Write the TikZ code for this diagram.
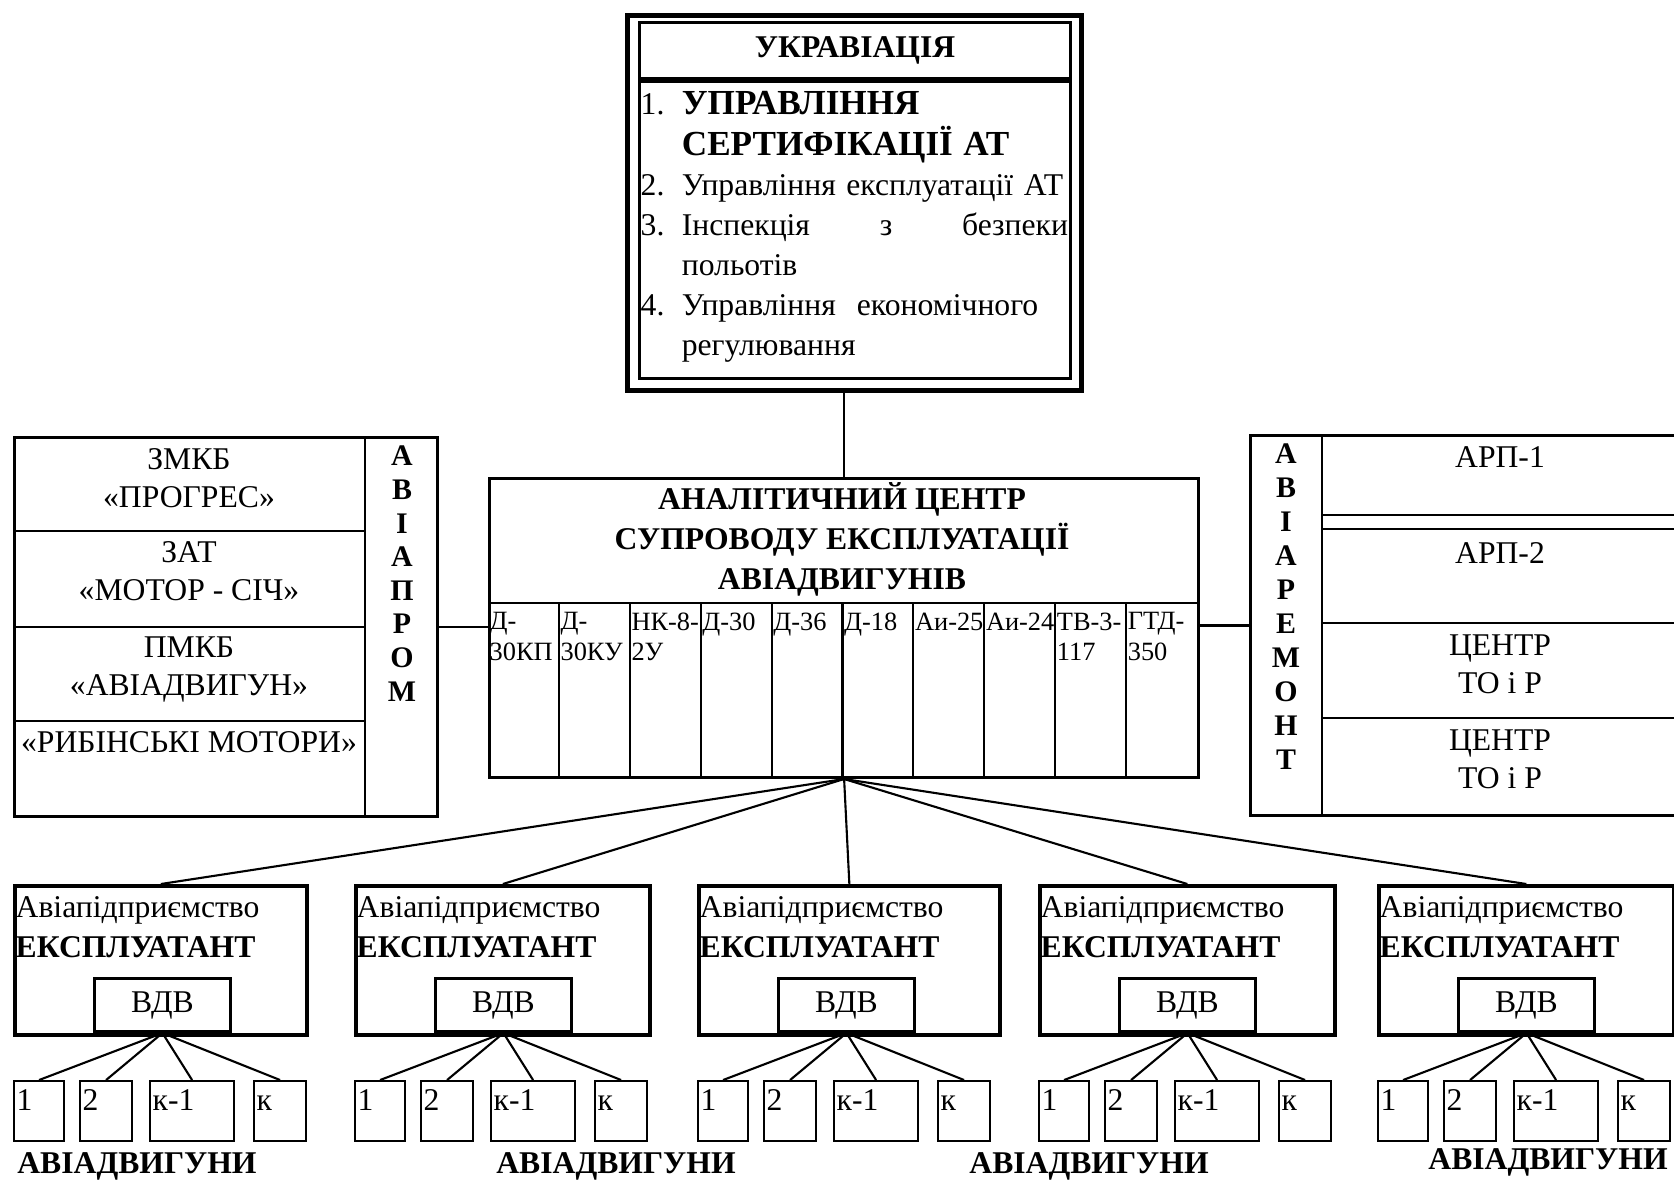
\documentclass[tikz,border=0pt]{standalone}
\usepackage{fontspec}
\setmainfont{Liberation Serif}
\usetikzlibrary{positioning}

\tikzset{
  frame/.style={draw, line width=0.8pt, inner sep=0pt},
  thin/.style={line width=0.6pt},
  lbl/.style={font=\fontsize{9}{10.8}\selectfont, align=center, inner sep=0pt},
  blbl/.style={font=\fontsize{9}{11.4}\selectfont\bfseries, align=center, inner sep=0pt},
  vlet/.style={inner sep=0pt, font=\fontsize{8.5}{9}\selectfont\bfseries},
  eng/.style={anchor=north west, inner sep=0pt, align=left, font=\fontsize{7.5}{8.6}\selectfont},
}

\begin{document}
\begin{tikzpicture}[x=0.01cm,y=-0.01cm]
\useasboundingbox (0,0) rectangle (1674,1184);

% Укравіація
\node[frame, line width=1.3pt, minimum width=4.54cm, minimum height=3.75cm, anchor=north west] (ukr) at (625,13) {};
\node[frame, minimum width=4.31cm, minimum height=0.56cm, anchor=north west] (ukrtitle) at (638,21) {};
\node[blbl] (ukrname) at (ukrtitle.center) {УКРАВІАЦІЯ};
\node[frame, minimum width=4.31cm, minimum height=2.97cm, anchor=north west] (ukrlist) at (638,80) {};
\node[anchor=north west, inner sep=0pt, text width=4.27cm, align=left,
      font=\fontsize{9}{11.4}\selectfont] (items) at (640,91) {%
\makebox[11.7pt][l]{1.}{\bfseries\fontsize{10}{11.4}\selectfont УПРАВЛІННЯ}\\
\hspace*{11.7pt}{\bfseries\fontsize{10}{11.4}\selectfont СЕРТИФІКАЦІЇ АТ}\\
\makebox[11.7pt][l]{2.}Управління експлуатації АТ\\
\makebox[11.7pt][l]{3.}Інспекція\hfill з\hfill безпеки\\
\hspace*{11.7pt}польотів\\
\makebox[11.7pt][l]{4.}Управління\ \ економічного\\
\hspace*{11.7pt}регулювання};

% Аналітичний центр
\node[frame, minimum width=7.09cm, minimum height=2.99cm, anchor=north west] (centre) at (488,477) {};
\draw[thin] (488,603) -- (1197,603);
\node[blbl] (ctitle) at (842,539) {АНАЛІТИЧНИЙ ЦЕНТР\\СУПРОВОДУ ЕКСПЛУАТАЦІЇ\\АВІАДВИГУНІВ};
\foreach \k in {1,...,9}
  \draw[thin] (488+70.9*\k,603) -- (488+70.9*\k,776);
\foreach \m [count=\k] in {{Д-\\30КП},{Д-\\30КУ},{НК-8-\\2У},Д-30,Д-36,Д-18,Аи-25,Аи-24,{ТВ-3-\\117},{ГТД-\\350}}
  \node[eng] (eng\k) at (489+70.9*\k-70.9,612) {\m};

\draw[thin] (centre.north) -- (centre.north |- ukr.south);

% Авіапром
\node[frame, minimum width=4.23cm, minimum height=3.79cm, anchor=north west] (prom) at (13,436) {};
\draw[thin] (365,436) -- (365,815);
\draw[thin] (13,531) -- (365,531);
\draw[thin] (13,627) -- (365,627);
\draw[thin] (13,721) -- (365,721);
\node[lbl] (zmkb) at (189,478) {ЗМКБ\\«ПРОГРЕС»};
\node[lbl] (zat) at (189,571) {ЗАТ\\«МОТОР - СІЧ»};
\node[lbl] (pmkb) at (189,669) {ПМКБ\\«АВІАДВИГУН»};
\node[lbl] (ryb) at (189,742) {«РИБІНСЬКІ МОТОРИ»};
\foreach \l [count=\k] in {А,В,І,А,П,Р,О,М}
  \node[vlet] (p\k) at (402,456+33.6*\k-33.6) {\l};
\draw[thin] (prom.east) -- (prom.east -| centre.west);

% Авіаремонт
\node[frame, minimum width=4.41cm, minimum height=3.80cm, anchor=north west] (remont) at (1249,434) {};
\draw[thin] (1322,434) -- (1322,814);
\draw[thin] (1322,515) -- (1690,515);
\draw[thin] (1322,529) -- (1690,529);
\draw[thin] (1322,623) -- (1690,623);
\draw[thin] (1322,718) -- (1690,718);
\node[lbl] (arp1) at (1500,457) {АРП-1};
\node[lbl] (arp2) at (1500,553) {АРП-2};
\node[lbl] (tor1) at (1500,664) {ЦЕНТР\\ТО і Р};
\node[lbl] (tor2) at (1500,759) {ЦЕНТР\\ТО і Р};
\foreach \l [count=\k] in {А,В,І,А,Р,Е,М,О,Н,Т}
  \node[vlet] (r\k) at (1286,454+34*\k-34) {\l};
\draw[thin] (centre.east |- remont.west) -- (remont.west);

% Авіапідприємства
\foreach \i/\xl/\w in {1/13/2.92, 2/354/2.94, 3/697/3.01, 4/1038/2.95, 5/1377/2.95} {
  \node[frame, line width=1pt, minimum width=\w cm, minimum height=1.49cm, anchor=north west] (expl\i) at (\xl,884) {};
  \node[lbl, anchor=west] (ap\i) at (\xl+2,910) {Авіапідприємство};
  \node[blbl, anchor=west] (ex\i) at (\xl+2,947) {ЕКСПЛУАТАНТ};
  \node[frame, minimum width=1.36cm, minimum height=0.53cm, anchor=south west] (vdv\i) at (\xl+80,1033) {};
  \node[lbl] (vdvt\i) at (vdv\i.center) {ВДВ};
  \draw[thin] (centre.south) -- (expl\i.north);
  \foreach \j/\a/\b/\t in {1/0/0.50/1, 2/66/0.52/2, 3/136/0.84/к-1, 4/240/0.52/к} {
    \node[frame, thin, minimum width=\b cm, minimum height=0.60cm, anchor=north west] (s\i\j) at (\xl+\a,1080) {};
    \node[lbl, anchor=base west] (t\i\j) at ([shift={(0.03cm,-0.30cm)}]s\i\j.north west) {\t};
    \draw[thin] (vdv\i.south) -- (s\i\j.north);
  }
}

\node[blbl] (dv1) at (137,1166) {АВІАДВИГУНИ};
\node[blbl] (dv2) at (616,1166) {АВІАДВИГУНИ};
\node[blbl] (dv3) at (1089,1166) {АВІАДВИГУНИ};
\node[blbl] (dv4) at (1548,1162) {АВІАДВИГУНИ};
\end{tikzpicture}
\end{document}
